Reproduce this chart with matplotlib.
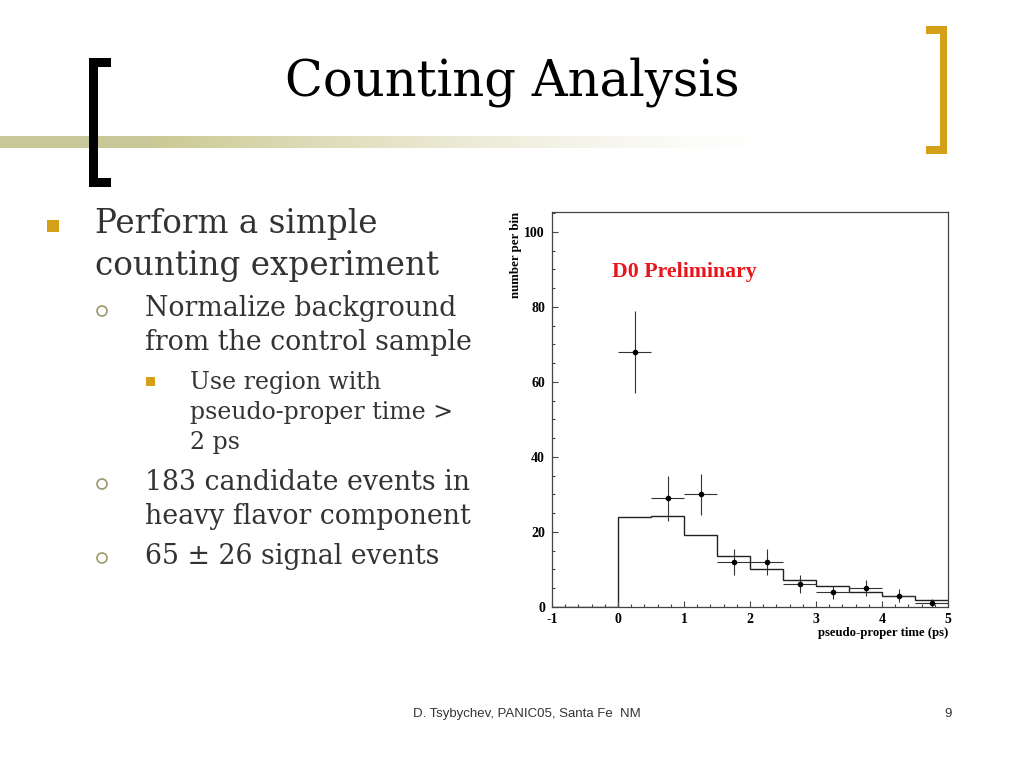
import numpy as np
import matplotlib
matplotlib.use('Agg')
import matplotlib.pyplot as plt
from matplotlib.patches import Rectangle, Circle
from matplotlib.ticker import MultipleLocator

plt.rcParams['axes.unicode_minus'] = False

# Datos del histograma (pseudo-proper time, bins de 0.5 ps)
bordes = [-1.0, 0.0, 0.5, 1.0, 1.5, 2.0, 2.5, 3.0, 3.5, 4.0, 4.5, 5.0]
fondo = [0.0, 24.0, 24.3, 19.2, 13.5, 10.1, 7.1, 5.5, 4.0, 2.8, 1.9]

centros = [0.25, 0.75, 1.25, 1.75, 2.25, 2.75, 3.25, 3.75, 4.25, 4.75]
cuentas = [68, 29, 30, 12, 12, 6, 4, 5, 3, 1]
err_abajo = [11.0, 6.0, 5.5, 3.5, 3.5, 2.3, 2.0, 2.2, 1.7, 1.0]
err_arriba = [11.0, 6.0, 5.5, 3.5, 3.5, 2.4, 1.7, 2.3, 1.7, 1.0]
semi_ancho = 0.25

# Colores
ORO = '#d4a017'
TEXTO = '#333333'
OLIVA = '#9a9a6a'

fig = plt.figure(figsize=(10.24, 7.68), dpi=100)
fig.patch.set_facecolor('white')

# Capa de fondo en coordenadas de pixel de la diapositiva
fondo_ax = fig.add_axes([0, 0, 1, 1], zorder=0)
fondo_ax.set_xlim(0, 1024)
fondo_ax.set_ylim(768, 0)
fondo_ax.axis('off')

# Barra con degradado
grad = np.ones((1, 800, 4))
base = np.array([0.80, 0.79, 0.58])
t = np.linspace(0, 1, 800)
alfa = np.clip(1 - (t - 0.2) / 0.8, 0, 1) ** 1.4
grad[0, :, :3] = base
grad[0, :, 3] = alfa
fondo_ax.imshow(grad, extent=(0, 780, 148, 136), aspect='auto', zorder=1)
fondo_ax.add_patch(Rectangle((0, 136), 153, 12, color='#c8c79a', zorder=1.5, lw=0))

# Corchete negro
for x, y, w, h in [(89, 58, 9, 129), (89, 58, 22, 9), (89, 178, 22, 9)]:
    fondo_ax.add_patch(Rectangle((x, y), w, h, color='black', lw=0, zorder=2))
# Corchete dorado
for x, y, w, h in [(940, 26, 7, 128), (926, 26, 21, 8), (926, 146, 21, 8)]:
    fondo_ax.add_patch(Rectangle((x, y), w, h, color=ORO, lw=0, zorder=2))

fondo_ax.text(512, 82, 'Counting Analysis', fontsize=35.7, family='DejaVu Serif',
              ha='center', va='center', color='black')

# Vinetas
fondo_ax.add_patch(Rectangle((47, 220), 12, 12, color=ORO, lw=0))
fondo_ax.add_patch(Rectangle((146, 377), 9, 9, color=ORO, lw=0))
for yc in [311, 484, 558]:
    fondo_ax.add_patch(Circle((102, yc), 5, fill=False, ec=OLIVA, lw=1.2))

lineas = [
    (95, 224, 'Perform a simple', 23.5),
    (95, 266, 'counting experiment', 23.5),
    (145, 309, 'Normalize background', 19.3),
    (145, 343, 'from the control sample', 19.3),
    (190, 382, 'Use region with', 17),
    (190, 413, 'pseudo-proper time >', 17),
    (190, 443, '2 ps', 17),
    (145, 483, '183 candidate events in', 19.3),
    (145, 517, 'heavy flavor component', 19.3),
    (145, 557, '65 ± 26 signal events', 19.3),
]
for x, y, s, fs in lineas:
    fondo_ax.text(x, y, s, fontsize=fs, family='DejaVu Serif', color=TEXTO,
                  ha='left', va='center')

fondo_ax.text(527, 714, 'D. Tsybychev, PANIC05, Santa Fe  NM', fontsize=9.5,
              family='Liberation Sans', color=TEXTO, ha='center', va='center')
fondo_ax.text(948, 714, '9', fontsize=9.5, family='Liberation Sans',
              color=TEXTO, ha='center', va='center')

# Grafica estilo ROOT
ax = fig.add_axes([552 / 1024, 1 - 607 / 768, 396 / 1024, 395 / 768], zorder=2)
ax.set_xlim(-1, 5)
ax.set_ylim(0, 105.3)

ax.stairs(fondo, bordes, baseline=None, color='#222222', lw=1.0)
ax.errorbar(centros, cuentas, yerr=[err_abajo, err_arriba], xerr=semi_ancho,
            fmt='o', ms=3, color='black', ecolor='#333333', elinewidth=0.8,
            capsize=0)

ax.text(-0.09, 89.3, 'D0 Preliminary', color='#e8151b', fontsize=15.7,
        family='Liberation Serif', fontweight='bold', ha='left', va='center')

for lado in ax.spines.values():
    lado.set_color('#444444')
    lado.set_linewidth(0.9)

ax.xaxis.set_major_locator(MultipleLocator(1))
ax.xaxis.set_minor_locator(MultipleLocator(0.2))
ax.yaxis.set_major_locator(MultipleLocator(20))
ax.yaxis.set_minor_locator(MultipleLocator(5))
ax.tick_params(which='both', direction='in', top=False, right=False,
               color='#444444', width=0.8)
ax.tick_params(which='major', length=4)
ax.tick_params(which='minor', length=2)
ax.tick_params(axis='y', which='major', pad=5)
ax.tick_params(axis='x', which='major', pad=4)
for lbl in ax.get_xticklabels() + ax.get_yticklabels():
    lbl.set_family('Liberation Serif')
    lbl.set_fontweight('bold')
    lbl.set_fontsize(10)

ax.set_xlabel('pseudo-proper time (ps)', family='Liberation Serif',
              fontweight='bold', fontsize=9.2, loc='right', labelpad=1)
ax.set_ylabel('number per bin', family='Liberation Serif',
              fontweight='bold', fontsize=9.3, loc='top', labelpad=2)

fig.savefig('out.png', dpi=100)
